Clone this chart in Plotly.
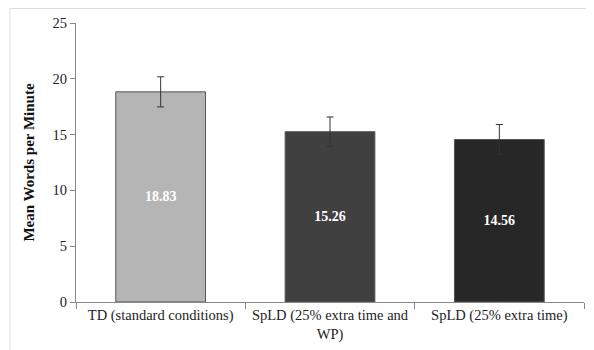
import plotly.graph_objects as go

categories = ["TD (standard conditions)", "SpLD (25% extra time and<br>WP)", "SpLD (25% extra time)"]
means = [18.83, 15.26, 14.56]
errors = [1.35, 1.32, 1.34]
labels = ["18.83", "15.26", "14.56"]
colors = ["#b5b5b5", "#404040", "#272727"]

SERIF = "Liberation Serif"

fig = go.Figure()
fig.add_trace(go.Bar(
    x=categories, y=means,
    marker=dict(color=colors, line=dict(color="#555555", width=1)),
    error_y=dict(type="data", array=errors, color="#333333", thickness=1, width=3.5),
    text=labels, textposition="inside", insidetextanchor="middle",
    textfont=dict(family=SERIF, size=14, color="white", weight="bold"),
    textangle=0,
))
fig.update_layout(
    width=586, height=342,
    margin=dict(l=68, r=10, t=15, b=48),
    plot_bgcolor="white", paper_bgcolor="white",
    bargap=0.47,
    showlegend=False,
    font=dict(family=SERIF, size=14, color="#222222"),
    xaxis=dict(showline=True, linecolor="#888888", linewidth=1, ticks="outside",
               tickson="boundaries", ticklen=6, tickcolor="#888888", automargin=False,
               tickfont=dict(family=SERIF, size=14.5, color="#222222"), showgrid=False),
    yaxis=dict(range=[0, 25], dtick=5, showline=True, linecolor="#888888", linewidth=1,
               ticks="outside", ticklen=5, tickcolor="#888888", showgrid=False,
               automargin=False,
               zeroline=False, tickfont=dict(family=SERIF, size=14.5, color="#222222"),
               title=dict(text="Mean Words per Minute",
                          font=dict(family=SERIF, size=15, weight="bold", color="#111111"),
                          standoff=14)),
    shapes=[dict(type="rect", xref="paper", yref="paper", x0=-0.13, x1=1.05, y0=-0.3, y1=1.052,
                 line=dict(color="#dddddd", width=1), fillcolor="rgba(0,0,0,0)", layer="below")],
)
fig.write_html("out.html")
